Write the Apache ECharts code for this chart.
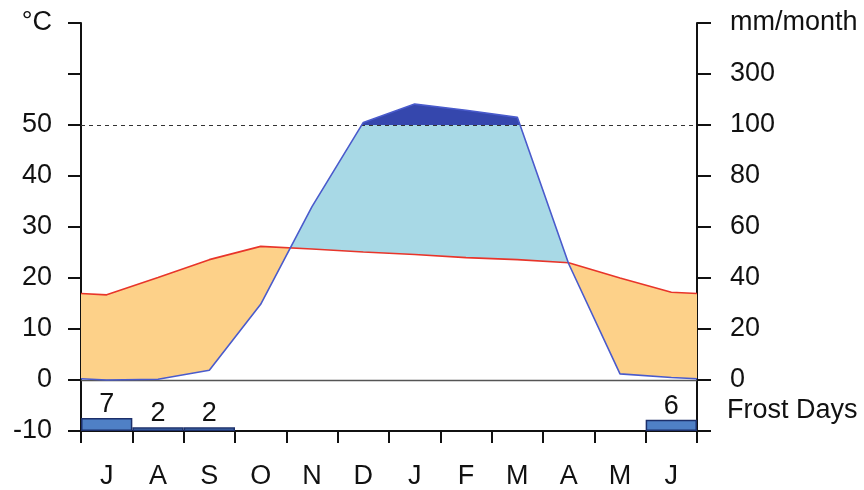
<!DOCTYPE html>
<html>
<head>
<meta charset="utf-8">
<script src="https://cdn.jsdelivr.net/npm/echarts@6/dist/echarts.min.js"></script>
<style>
html,body{margin:0;padding:0;background:#fff;overflow:hidden;}
#chart{width:864px;height:490px;}
</style>
</head>
<body>
<div id="chart"></div>
<script>
// ---- data ----
const months = ['J','A','S','O','N','D','J','F','M','A','M','J'];
const tempC = [16.7, 20.1, 23.6, 26.2, 25.7, 25.1, 24.6, 24.0, 23.6, 23.0, 20.0, 17.2];
const precipMm = [0, 0.3, 3.8, 29.7, 68, 110, 182, 158, 130, 45.6, 2.4, 1];
const frostDays = [7, 2, 2, 0, 0, 0, 0, 0, 0, 0, 0, 6];
const leftTickLabels = {'-10':'-10','0':'0','10':'10','20':'20','30':'30','40':'40','50':'50','60':'','70':'°C'};
const rightTickLabels = {'-10':'','0':'0','10':'20','20':'40','30':'60','40':'80','50':'100','60':'300','70':'mm/month'};

// ---- derived (Walter-Lieth scaling: 2 mm per °C up to 100 mm, 20 mm per °C above) ----
function mmToUnits(mm){ return mm <= 100 ? mm/2 : 50 + (mm-100)/20; }
const edgeT = (tempC[0] + tempC[11]) / 2;
const edgeP = mmToUnits((precipMm[0] + precipMm[11]) / 2);
const X = [0], T = [edgeT], P = [edgeP];
for (let i = 0; i < 12; i++){ X.push(i + 0.5); T.push(tempC[i]); P.push(mmToUnits(precipMm[i])); }
X.push(12); T.push(edgeT); P.push(edgeP);

function lerp(a,b,f){ return a + (b-a)*f; }
const pts = [];
for (let i = 0; i < X.length-1; i++){
  const fs = [0];
  const d0 = T[i]-P[i], d1 = T[i+1]-P[i+1];
  if (d0*d1 < 0) fs.push(d0/(d0-d1));
  const e0 = P[i]-50, e1 = P[i+1]-50;
  if (e0*e1 < 0) fs.push(e0/(e0-e1));
  fs.sort((a,b)=>a-b);
  fs.forEach(f => pts.push([lerp(X[i],X[i+1],f), lerp(T[i],T[i+1],f), lerp(P[i],P[i+1],f)]));
}
pts.push([X[X.length-1], T[T.length-1], P[P.length-1]]);

const FONT = 'Liberation Sans, Arial, Helvetica, sans-serif';
const FS = 27;

const chart = echarts.init(document.getElementById('chart'), null, {renderer:'canvas', width:864, height:490});

function band(api, topFn, botFn){
  const top = pts.map(q => api.coord([q[0], topFn(q)]));
  const bot = pts.slice().reverse().map(q => api.coord([q[0], botFn(q)]));
  return top.concat(bot);
}

const option = {
  animation: false,
  backgroundColor: '#fff',
  textStyle: {fontFamily: FONT},
  grid: {left: 81, width: 616, top: 23, height: 411, containLabel: false},
  xAxis: [
    {type:'value', min:0, max:12, interval:1, position:'bottom',
      axisLine:{show:true, onZero:false, lineStyle:{color:'#111', width:2}},
      axisTick:{show:true, inside:false, length:12, lineStyle:{color:'#111', width:2}},
      axisLabel:{show:false}, splitLine:{show:false}},
    {type:'category', data: months, position:'bottom', boundaryGap:true,
      axisLine:{show:false}, axisTick:{show:false},
      axisLabel:{show:true, interval:0, margin:32, fontSize:FS, color:'#111', fontFamily:FONT},
      splitLine:{show:false}}
  ],
  yAxis: [
    {type:'value', min:-10, max:70, interval:10, position:'left',
      axisLine:{show:true, lineStyle:{color:'#111', width:2}},
      axisTick:{show:true, length:13, lineStyle:{color:'#111', width:2}},
      axisLabel:{show:true, margin:29, fontSize:FS, color:'#111', fontFamily:FONT,
        formatter: v => leftTickLabels[String(v)] ?? ''},
      splitLine:{show:false}},
    {type:'value', min:-10, max:70, interval:10, position:'right',
      axisLine:{show:true, lineStyle:{color:'#111', width:2}},
      axisTick:{show:true, length:14, lineStyle:{color:'#111', width:2}},
      axisLabel:{show:true, margin:33, fontSize:FS, color:'#111', fontFamily:FONT,
        formatter: v => rightTickLabels[String(v)] ?? ''},
      splitLine:{show:false}},
    {type:'value', min:0, max:220, show:false}
  ],
  series: [
    {type:'custom', xAxisIndex:0, yAxisIndex:0, z:1, silent:true,
      data:[[0,0]],
      renderItem: function(params, api){
        return {type:'group', children:[
          {type:'polygon', shape:{points: band(api, q=>q[1], q=>Math.min(q[1],q[2]))},
            style:{fill:'#fdd189', stroke:null}},
          {type:'polygon', shape:{points: band(api, q=>Math.max(q[1], Math.min(q[2],50)), q=>q[1])},
            style:{fill:'#a8d9e6', stroke:null}},
          {type:'polygon', shape:{points: band(api, q=>Math.max(50,q[2]), q=>50)},
            style:{fill:'#3547ad', stroke:null}}
        ]};
      }},
    {type:'line', name:'temp', xAxisIndex:0, yAxisIndex:0, z:5, symbol:'none',
      data: X.map((x,i)=>[x, T[i]]),
      lineStyle:{color:'#e8352a', width:1.6},
      markLine:{silent:true, symbol:'none', label:{show:false},
        data:[
          {yAxis:0, lineStyle:{color:'#555', width:1.3, type:'solid'}},
          {yAxis:50, lineStyle:{color:'#333', width:1, type:[4,4]}}
        ]}},
    {type:'line', name:'precip', xAxisIndex:0, yAxisIndex:0, z:6, symbol:'none',
      data: X.map((x,i)=>[x, P[i]]),
      lineStyle:{color:'#4a5bcc', width:1.6}},
    {type:'bar', name:'frost', xAxisIndex:1, yAxisIndex:2, z:4, barWidth:'100%', barGap:'0%',
      data: frostDays.map(d => d > 0 ? d : '-'),
      itemStyle:{color:'#4f80c6', borderColor:'#1c2f6a', borderWidth:1.5},
      label:{show:true, position:'top', distance:0, fontSize:FS, color:'#111', fontFamily:FONT}}
  ],
  graphic: [
    {type:'text', left:727, top:397, style:{text:'Frost Days', fontSize:FS, fill:'#111', fontFamily:FONT}}
  ]
};
chart.setOption(option);
</script>
</body>
</html>
